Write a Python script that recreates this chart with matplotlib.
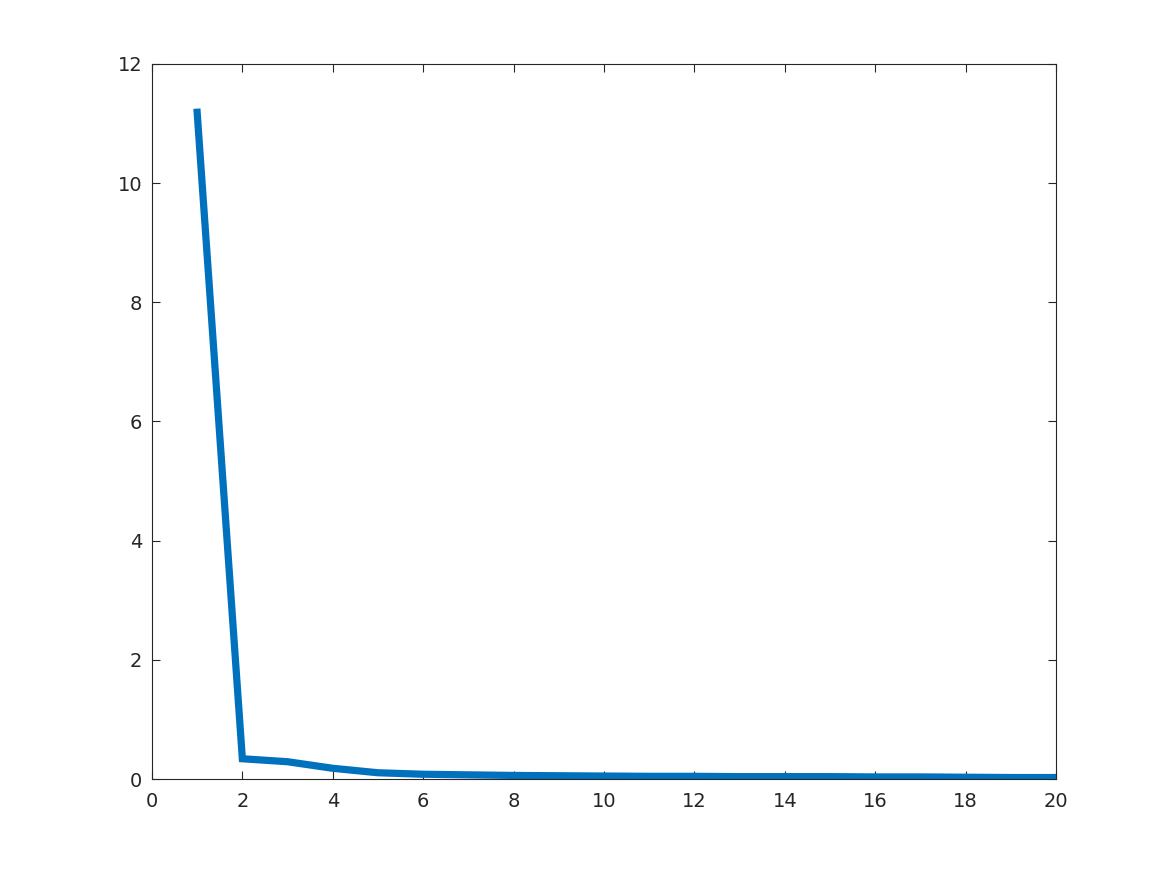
import numpy as np
import matplotlib
matplotlib.use("Agg")
import matplotlib.pyplot as plt

# values
x = np.arange(1, 21)
y = [11.19, 0.34, 0.29, 0.18, 0.105, 0.08, 0.07, 0.06, 0.055, 0.05,
     0.045, 0.045, 0.04, 0.04, 0.04, 0.035, 0.035, 0.03, 0.025, 0.025]

fig = plt.figure(figsize=(11.67, 8.75), dpi=100)
ax = fig.add_axes([0.1302, 0.1097, 0.7747, 0.8172])

ax.plot(x, y, color="#0072BD", linewidth=5.2, solid_joinstyle="miter")

ax.set_xlim(0, 20)
ax.set_ylim(0, 12)
ax.set_xticks(np.arange(0, 21, 2))
ax.set_yticks(np.arange(0, 13, 2))

dark = "#262626"
for s in ax.spines.values():
    s.set_color(dark)
    s.set_linewidth(0.8)
ax.tick_params(direction="in", top=True, right=True, length=6, width=0.8,
               colors=dark, labelsize=14)
ax.tick_params(axis="x", pad=9)
ax.tick_params(axis="y", pad=7)

fig.savefig("out.png", dpi=100)
